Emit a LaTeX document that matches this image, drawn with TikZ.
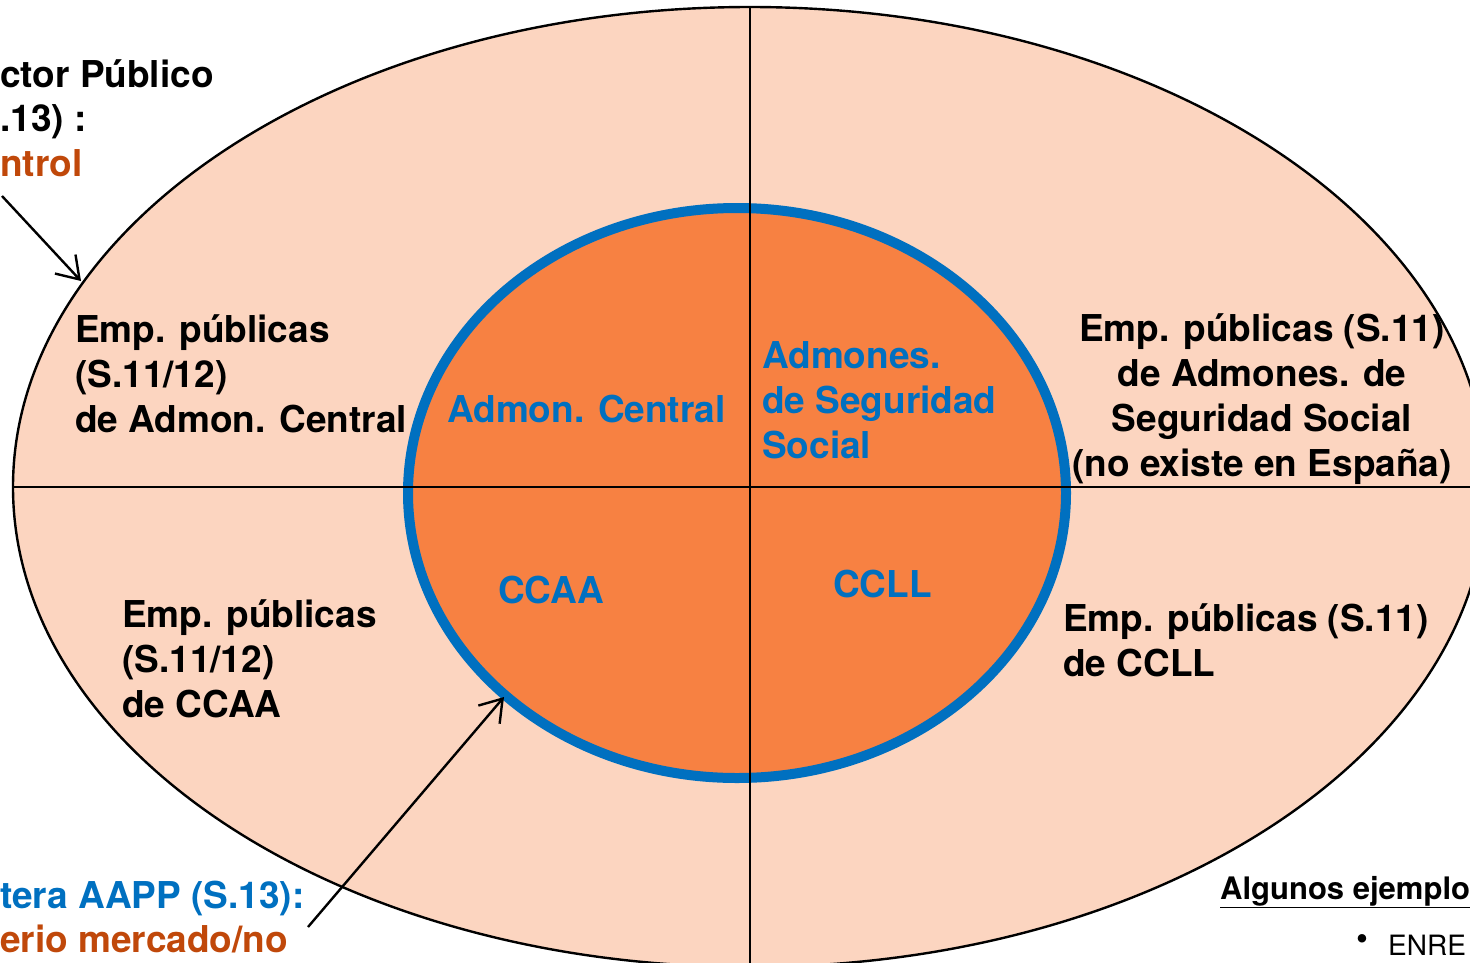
\documentclass[tikz,border=0pt]{standalone}
\usepackage{fontspec}
\setmainfont{TeX Gyre Heros}
\usetikzlibrary{arrows.meta}
\definecolor{peach}{RGB}{252,213,192}
\definecolor{orangefill}{RGB}{247,129,66}
\definecolor{blueline}{RGB}{0,112,192}
\definecolor{rust}{RGB}{192,72,10}
\begin{document}
\begin{tikzpicture}[x=1pt,y=-1pt,
  lbl/.style={inner sep=0pt, font=\fontsize{37}{45}\selectfont\bfseries},
  small/.style={inner sep=0pt, font=\fontsize{31}{38}\selectfont\bfseries},
  plain/.style={inner sep=0pt, font=\fontsize{28}{34}\selectfont},
  blk/.style={line width=2.4pt, draw=black},
  arr/.style={line width=2.4pt, -{Straight Barb[length=21pt,width=28pt]}}]
\useasboundingbox (0,0) rectangle (1470,962);
\clip (0,0) rectangle (1470,962);
% outer ellipse
\coordinate (oc) at (750,487);
\draw[blk, fill=peach] (oc) ellipse [x radius=737pt, y radius=480pt];
% inner ellipse
\coordinate (ic) at (737,493);
\draw[fill=orangefill, draw=blueline, line width=10pt] (ic) ellipse [x radius=329pt, y radius=285pt];
% dividing lines
\coordinate (vt) at (750,7);
\coordinate (vb) at (750,967);
\coordinate (hl) at (13,487);
\coordinate (hr) at (1487,487);
\draw[blk] (vt) -- (vb);
\draw[blk] (hl) -- (hr);
% outer texts
\node[lbl, anchor=base west] (sp1) at (0,87) {ctor Público};
\node[lbl, anchor=base west] (sp2) at (0,131) {.13) :};
\node[lbl, anchor=base west, text=rust] (sp3) at (0,176) {ntrol};
\node[lbl, anchor=base west, text=blueline] (aa1) at (0,908) {tera AAPP (S.13):};
\node[lbl, anchor=base west, text=rust] (aa2) at (0,952) {erio mercado/no};
\node[small, anchor=base west] (ej) at (1220,899) {\underline{Algunos ejemplo}};
\node[font=\fontsize{34}{34}\selectfont, inner sep=0pt] (bul) at (1362,942) {\textbullet};
\node[plain, anchor=base west] (enre) at (1388,955) {ENRE};
% quadrant texts
\node[lbl, anchor=base west, align=left] (ac) at (75,432) {Emp. públicas\\(S.11/12)\\de Admon. Central};
\node[lbl, anchor=base west, align=left] (ca) at (122,717) {Emp. públicas\\(S.11/12)\\de CCAA};
\node[lbl, anchor=base, align=center] (ss) at (1262,476) {Emp. públicas (S.11)\\de Admones. de\\Seguridad Social\\(no existe en España)};
\node[lbl, anchor=base west, align=left] (cl) at (1063,676) {Emp. públicas (S.11)\\de CCLL};
% inner texts
\node[lbl, anchor=base west, text=blueline] (iac) at (447,422) {Admon. Central};
\node[lbl, anchor=base west, align=left, text=blueline] (iss) at (762,458) {Admones.\\de Seguridad\\Social};
\node[lbl, anchor=base west, text=blueline] (ica) at (498,603) {CCAA};
\node[lbl, anchor=base west, text=blueline] (icl) at (833,597) {CCLL};
% arrows
\coordinate (a1s) at (2,196);
\coordinate (a1e) at (81,281);
\coordinate (a2s) at (308,927);
\coordinate (a2e) at (504,697);
\draw[arr] (a1s) -- (a1e);
\draw[arr] (a2s) -- (a2e);
\end{tikzpicture}
\end{document}
